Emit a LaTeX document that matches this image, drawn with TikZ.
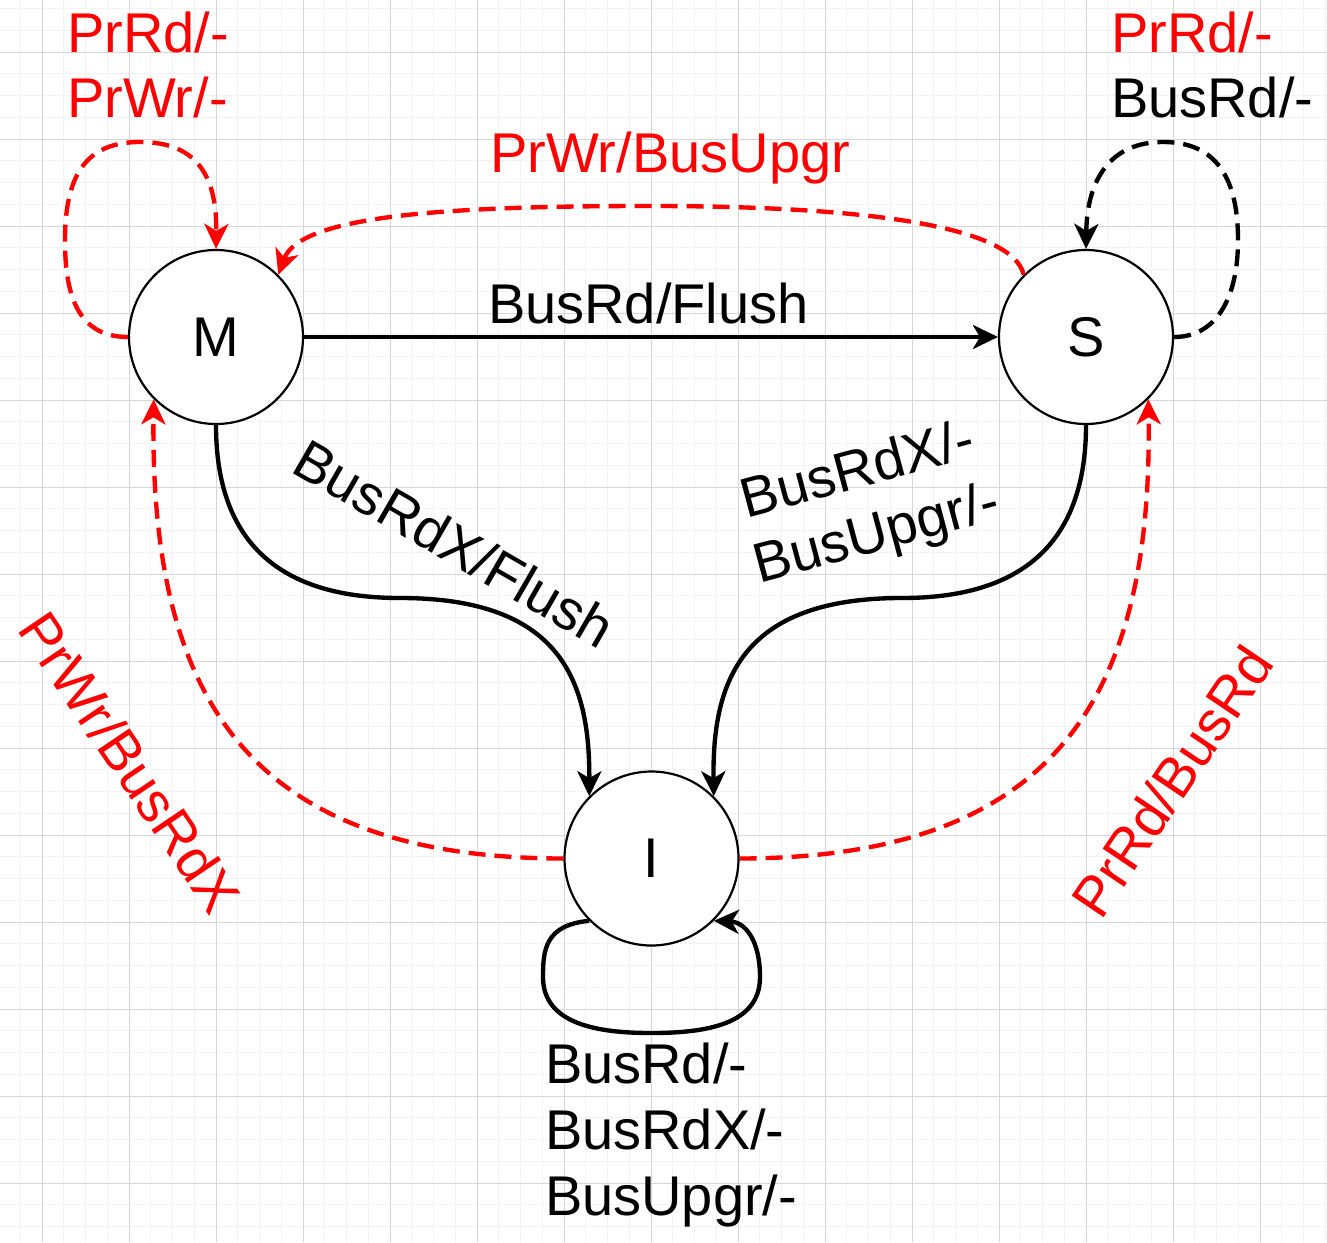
\documentclass[tikz,border=0pt]{standalone}
\usepackage{fontspec}
\setmainfont{Liberation Sans}
\usetikzlibrary{arrows.meta}
\definecolor{gridminor}{HTML}{F2F2F2}
\definecolor{gridmajor}{HTML}{D6D6D6}
\definecolor{pred}{HTML}{FF0000}
\begin{document}
\begin{tikzpicture}[x=1pt,y=-1pt,
  lbl/.style={font=\fontsize{56}{66}\selectfont, inner sep=0pt, outer sep=0pt},
  statebox/.style={draw, circle, line width=2.2pt, minimum size=174pt, inner sep=0pt, fill=white, font=\fontsize{56}{66}\selectfont},
  tipa/.style={-{Stealth[length=25pt,width=24pt,inset=7pt]}},
  solidline/.style={line width=4.35pt, tipa},
  dashline/.style={line width=4.35pt, dash pattern=on 17pt off 9pt, tipa},
]
\useasboundingbox (0,0) rectangle (1327,1242);
\fill[white] (0,0) rectangle (1327,1242);
% grid
\foreach \i in {0,...,60} {\draw[gridminor, line width=1pt] ({20.25+21.75*\i},0) -- ({20.25+21.75*\i},1242);}
\foreach \i in {0,...,56} {\draw[gridminor, line width=1pt] (0,{8.5+21.75*\i}) -- (1327,{8.5+21.75*\i});}
\foreach \i in {0,...,14} {\draw[gridmajor, line width=1pt] ({42+87*\i},0) -- ({42+87*\i},1242);}
\foreach \i in {0,...,13} {\draw[gridmajor, line width=1pt] (0,{52+87*\i}) -- (1327,{52+87*\i});}

% states
\node[statebox] (M) at (216,337) {M};
\node[statebox] (S) at (1086,337) {S};
\node[statebox] (I) at (651.5,858.5) {I};

% connectors
\draw[solidline] (M.east) -- (S.west);
\draw[dashline, pred] (M.west) .. controls (75,337) and (65,290) .. (65,240) .. controls (65,170) and (90,142) .. (140,142) .. controls (200,142) and (217,180) .. (M.north);
\draw[dashline, pred] (S.135) .. controls (1012,225) and (860,206) .. (650,206) .. controls (450,206) and (300,215) .. (M.45);
\draw[dashline] (S.east) .. controls (1215,337) and (1238,300) .. (1238,240) .. controls (1238,170) and (1210,142) .. (1163,142) .. controls (1110,142) and (1087,180) .. (S.north);
\draw[solidline] (M.south) .. controls (216,560) and (300,598) .. (400,598) .. controls (560,598) and (590,680) .. (I.135);
\draw[solidline] (S.south) .. controls (1086,560) and (1002,598) .. (902,598) .. controls (742,598) and (712,680) .. (I.45);
\draw[dashline, pred] (I.west) .. controls (250,858) and (150,700) .. (M.225);
\draw[dashline, pred] (I.east) .. controls (1053,858) and (1153,700) .. (S.315);
\draw[solidline] (I.225) .. controls (545,925) and (543,950) .. (543,977) .. controls (543,1025) and (600,1033) .. (651,1033) .. controls (705,1033) and (760,1025) .. (760,977) .. controls (760,940) and (745,922) .. (I.315);

% labels
\node[lbl, pred, anchor=base west] (mla) at (67,52) {PrRd/-};
\node[lbl, pred, anchor=base west] (mlb) at (67,117) {PrWr/-};
\node[lbl, pred, anchor=base west] (sla) at (1111,52) {PrRd/-};
\node[lbl, anchor=base west] (slb) at (1111,117) {BusRd/-};
\node[lbl, pred, anchor=base west] (smla) at (490,172) {PrWr/BusUpgr};
\node[lbl, anchor=base west] (msla) at (488,323) {BusRd/Flush};
\node[lbl, anchor=base west, rotate=-30] (mila) at (289.5,471) {BusRdX/Flush};
\node[lbl, anchor=base west, rotate=15] (sila) at (746,518) {BusRdX/-};
\node[lbl, anchor=base west, rotate=15] (silb) at (759,583) {BusUpgr/-};
\node[lbl, pred, rotate=-56] (imla) at (130,762) {PrWr/BusRdX};
\node[lbl, pred, rotate=56] (isla) at (1172,781) {PrRd/BusRd};
\node[lbl, anchor=base west] (iila) at (545,1083) {BusRd/-};
\node[lbl, anchor=base west] (iilb) at (545,1149) {BusRdX/-};
\node[lbl, anchor=base west] (iilc) at (545,1215) {BusUpgr/-};
\end{tikzpicture}
\end{document}
